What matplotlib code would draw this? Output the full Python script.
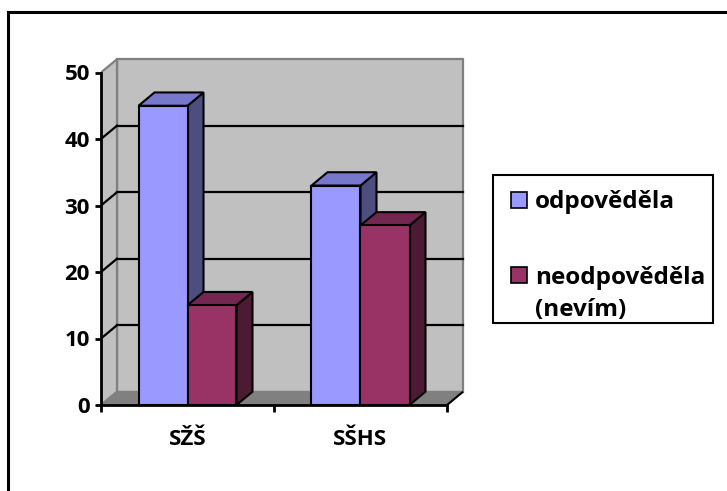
import matplotlib
matplotlib.use("Agg")
import matplotlib.pyplot as plt
from matplotlib.patches import Polygon, Rectangle
from matplotlib.lines import Line2D

# ---- data ----
categories = ["SŽŠ", "SŠHS"]
answered = [45, 33]
not_answered = [15, 27]
series_names = ["odpověděla", "neodpověděla\n(nevím)"]
y_ticks = [0, 10, 20, 30, 40, 50]

# ---- style ----
FONT = "Open Sans"
FS = 16
FS_LEGEND = 17.5
front_cols = ["#9999FF", "#993366"]
top_cols = ["#7777CC", "#732650"]
side_cols = ["#4D4D80", "#4D1A33"]
WALL = "#C0C0C0"
FLOOR = "#808080"
EDGE_GRAY = "#808080"

W, H = 727, 491
fig = plt.figure(figsize=(W / 100, H / 100), dpi=100)

# plot area (front plane): x in category units, y in values
px_per_cat = 173.0
px_per_val = 6.65
left_px, base_px = 101, 405
xmax = 2.16
ymax = 53.4
ax = fig.add_axes([left_px / W, (H - base_px) / H,
                   xmax * px_per_cat / W, ymax * px_per_val / H])
ax.set_xlim(0, xmax)
ax.set_ylim(0, ymax)
ax.patch.set_visible(False)

ncat = len(categories)
ytop = y_ticks[-1]
dx, dy = 16 / px_per_cat, 2.0   # depth offset of the 3-D box

# walls and floor
ax.add_patch(Polygon([(dx, dy), (ncat + dx, dy), (ncat + dx, ytop + dy), (dx, ytop + dy)],
                     closed=True, fc=WALL, ec=EDGE_GRAY, lw=1.6, zorder=1))
ax.add_patch(Polygon([(0, 0), (0, ytop), (dx, ytop + dy), (dx, dy)],
                     closed=True, fc=WALL, ec=EDGE_GRAY, lw=1.6, zorder=1))
ax.add_patch(Polygon([(0, 0), (ncat, 0), (ncat + dx, dy), (dx, dy)],
                     closed=True, fc=FLOOR, ec=EDGE_GRAY, lw=1.2, zorder=1.5))
ax.plot([ncat, ncat + dx], [0, dy], color="black", lw=1.5, zorder=1.6,
        solid_capstyle="butt")

# gridlines on back and side walls
for v in y_ticks[1:-1]:
    ax.plot([dx, ncat + dx], [v + dy, v + dy], color="black", lw=1.6, zorder=2)
    ax.plot([0, dx], [v, v + dy], color="black", lw=1.6, zorder=2)

# 3-D columns
bar_w = 49 / px_per_cat
series = [answered, not_answered]
for ci in range(ncat):
    center = ci + 0.5
    for si, vals in enumerate(series):
        v = vals[ci]
        x0 = center - bar_w + si * bar_w
        x1 = x0 + bar_w
        kw = dict(closed=True, ec="black", lw=1.5, joinstyle="miter", zorder=3)
        ax.add_patch(Polygon([(x1, 0), (x1 + dx, dy), (x1 + dx, v + dy), (x1, v)],
                             fc=side_cols[si], **kw))
        ax.add_patch(Polygon([(x0, v), (x1, v), (x1 + dx, v + dy), (x0 + dx, v + dy)],
                             fc=top_cols[si], **kw))
        ax.add_patch(Polygon([(x0, 0), (x1, 0), (x1, v), (x0, v)],
                             fc=front_cols[si], **kw))

# axes
for s in ("top", "right"):
    ax.spines[s].set_visible(False)
ax.spines["left"].set_bounds(0, ytop)
ax.spines["bottom"].set_bounds(0, ncat)
for s in ("left", "bottom"):
    ax.spines[s].set_linewidth(2)
    ax.spines[s].set_zorder(4)
ax.set_yticks(y_ticks)
ax.set_yticklabels([str(t) for t in y_ticks], fontfamily=FONT, fontweight="bold",
                   fontsize=FS)
ax.tick_params(axis="y", length=4, width=2, pad=4)
ax.set_xticks(range(ncat + 1))
ax.set_xticklabels([])
ax.tick_params(axis="x", which="major", length=5, width=2)
ax.set_xticks([i + 0.5 for i in range(ncat)], minor=True)
ax.set_xticklabels(categories, minor=True, fontfamily=FONT, fontweight="bold",
                   fontsize=FS)
ax.tick_params(axis="x", which="minor", length=0, pad=17.5)


def fx(px):
    return px / W


def fy(py):
    return 1 - py / H


# legend
fig.add_artist(Rectangle((fx(493), fy(323)), fx(713) - fx(493), fy(175) - fy(323),
                         transform=fig.transFigure, fc="white", ec="black", lw=1.5))
legend_rows = [(200, 208), (275, 284)]
for si, (cy, base) in enumerate(legend_rows):
    fig.add_artist(Rectangle((fx(511), fy(cy + 8)), fx(527) - fx(511), fy(cy - 8) - fy(cy + 8),
                             transform=fig.transFigure, fc=front_cols[si], ec="black", lw=1.2))
    lines = series_names[si].split("\n")
    for li, line in enumerate(lines):
        fig.text(fx(535), fy(base + li * 32), line, fontfamily=FONT, fontweight="bold",
                 fontsize=FS_LEGEND, ha="left", va="baseline")

# chart border (top and left edges)
fig.add_artist(Line2D([fx(8), fx(727)], [fy(12), fy(12)], transform=fig.transFigure,
                      color="black", lw=2.2))
fig.add_artist(Line2D([fx(8), fx(8)], [fy(12), fy(491)], transform=fig.transFigure,
                      color="black", lw=2.2))

fig.savefig("out.png", dpi=100)
